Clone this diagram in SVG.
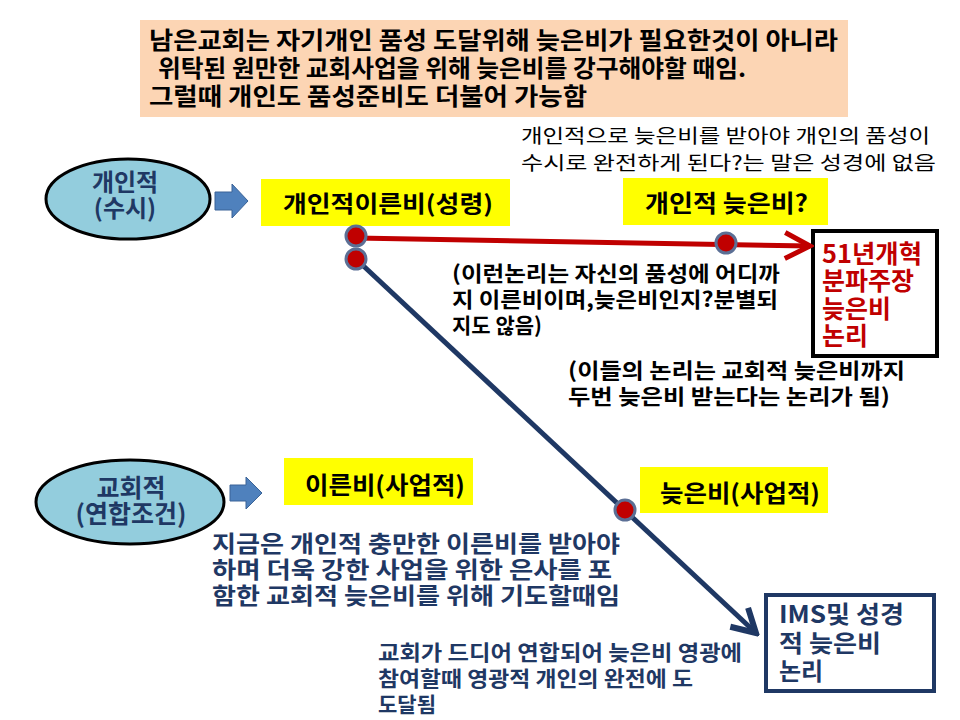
<svg xmlns="http://www.w3.org/2000/svg" width="960" height="720" viewBox="0 0 960 720">
<style>
text{font-family:"Noto Sans CJK KR","Noto Sans",sans-serif;}
.b{font-weight:700;}
.blk{fill:#000;}
.navy{fill:#1F3864;}
.red{fill:#C00000;}
.ybox{fill:#FFFF00;}
.ell{fill:#93CDDD;stroke:#000;stroke-width:3;}
.blockarrow{fill:#4F81BD;stroke:#3A6397;stroke-width:1;}
.dot{fill:#C00000;stroke:#5B6F95;stroke-width:3;}
</style>
<defs>
<marker id="arrRed" markerUnits="userSpaceOnUse" viewBox="-32 -18 36 36" markerWidth="36" markerHeight="36" refX="0" refY="0" orient="auto">
<path d="M-25,-13 L0,0 L-25,13" fill="none" stroke="#C00000" stroke-width="5"/>
</marker>
<marker id="arrNavy" markerUnits="userSpaceOnUse" viewBox="-32 -18 36 36" markerWidth="36" markerHeight="36" refX="0" refY="0" orient="auto">
<path d="M-23,-13 L0,0 L-23,13" fill="none" stroke="#1F3864" stroke-width="6"/>
</marker>
</defs>
<rect width="960" height="720" fill="#fff"/>

<g id="top-note">
<rect x="140" y="20" width="708" height="97" fill="#FCD5B4"/>
<text class="b blk" font-size="24" x="149" y="49" textLength="689" lengthAdjust="spacingAndGlyphs">남은교회는 자기개인 품성 도달위해 늦은비가 필요한것이 아니라</text>
<text class="b blk" font-size="24" x="158" y="77" textLength="588" lengthAdjust="spacingAndGlyphs">위탁된 원만한 교회사업을 위해 늦은비를 강구해야할 때임.</text>
<text class="b blk" font-size="24" x="149" y="105" textLength="438" lengthAdjust="spacingAndGlyphs">그럴때 개인도 품성준비도  더불어 가능함</text>
</g>

<g id="note-bible">
<text class="blk" font-size="19" x="521" y="143" textLength="409" lengthAdjust="spacingAndGlyphs">개인적으로 늦은비를 받아야 개인의 품성이</text>
<text class="blk" font-size="19" x="521" y="170" textLength="415" lengthAdjust="spacingAndGlyphs">수시로 완전하게 된다?는  말은 성경에 없음</text>
</g>

<g id="personal">
<ellipse class="ell" cx="128" cy="199" rx="82" ry="40"/>
<text class="b navy" font-size="24" x="125" y="191" text-anchor="middle">개인적</text>
<text class="b navy" font-size="24" x="125" y="217" text-anchor="middle">(수시)</text>
</g>
<g id="arrow-personal">
<path class="blockarrow" d="M215,192 H232 V184 L248,201 L232,218 V210 H215 Z"/>
</g>

<g id="early-rain-personal">
<rect class="ybox" x="261" y="179" width="249" height="47"/>
<text class="b blk" font-size="23" x="283" y="212" textLength="210" lengthAdjust="spacingAndGlyphs">개인적이른비(성령)</text>
</g>

<g id="late-rain-personal">
<rect class="ybox" x="623" y="178" width="205" height="47"/>
<text class="b blk" font-size="24" x="645" y="212" textLength="163" lengthAdjust="spacingAndGlyphs">개인적 늦은비?</text>
</g>

<g id="box-1951">
<rect x="813" y="231" width="124" height="125" fill="#fff" stroke="#000" stroke-width="4"/>
<text class="b red" font-size="25" x="822" y="263" textLength="100" lengthAdjust="spacingAndGlyphs">51년개혁</text>
<text class="b red" font-size="25" x="822" y="290">분파주장</text>
<text class="b red" font-size="25" x="822" y="318">늦은비</text>
<text class="b red" font-size="25" x="822" y="345">논리</text>
</g>

<g id="note-logic1">
<text class="b blk" font-size="21" x="452" y="281" textLength="328" lengthAdjust="spacingAndGlyphs">(이런논리는 자신의 품성에 어디까</text>
<text class="b blk" font-size="21" x="452" y="307" textLength="326" lengthAdjust="spacingAndGlyphs">지 이른비이며,늦은비인지?분별되</text>
<text class="b blk" font-size="21" x="452" y="333">지도 않음)</text>
</g>

<g id="note-logic2">
<text class="b blk" font-size="21" x="568" y="378" textLength="337" lengthAdjust="spacingAndGlyphs">(이들의 논리는 교회적 늦은비까지</text>
<text class="b blk" font-size="21" x="568" y="404" textLength="322" lengthAdjust="spacingAndGlyphs">두번 늦은비 받는다는 논리가 됨)</text>
</g>

<g id="church">
<ellipse class="ell" cx="130" cy="502" rx="94" ry="42"/>
<text class="b navy" font-size="25" x="131" y="497" text-anchor="middle">교회적</text>
<text class="b navy" font-size="25" x="131" y="523" text-anchor="middle">(연합조건)</text>
</g>
<g id="arrow-church">
<path class="blockarrow" d="M230,485 H246 V477 L262,493 L246,509 V501 H230 Z"/>
</g>

<g id="early-rain-church">
<rect class="ybox" x="284" y="458" width="189" height="47"/>
<text class="b blk" font-size="24" x="305" y="494" textLength="160" lengthAdjust="spacingAndGlyphs">이른비(사업적)</text>
</g>

<g id="late-rain-church">
<rect class="ybox" x="640" y="467" width="188" height="46"/>
<text class="b blk" font-size="24" x="660" y="502" textLength="160" lengthAdjust="spacingAndGlyphs">늦은비(사업적)</text>
</g>

<g id="note-now">
<text class="b navy" font-size="23" x="212" y="552" textLength="408" lengthAdjust="spacingAndGlyphs">지금은 개인적 충만한 이른비를 받아야</text>
<text class="b navy" font-size="23" x="212" y="578" textLength="400" lengthAdjust="spacingAndGlyphs">하며 더욱 강한 사업을 위한 은사를 포</text>
<text class="b navy" font-size="23" x="212" y="604" textLength="408" lengthAdjust="spacingAndGlyphs">함한 교회적 늦은비를 위해 기도할때임</text>
</g>

<g id="box-ims">
<rect x="766" y="595" width="168" height="96" fill="#fff" stroke="#1F3864" stroke-width="4"/>
<text class="b navy" font-size="24" x="779" y="623" textLength="125" lengthAdjust="spacingAndGlyphs">IMS및 성경</text>
<text class="b navy" font-size="24" x="779" y="652" textLength="102" lengthAdjust="spacingAndGlyphs">적 늦은비</text>
<text class="b navy" font-size="24" x="779" y="680">논리</text>
</g>

<g id="note-glory">
<text class="b navy" font-size="21" x="378" y="660" textLength="364" lengthAdjust="spacingAndGlyphs">교회가 드디어 연합되어 늦은비 영광에</text>
<text class="b navy" font-size="21" x="378" y="686" textLength="315" lengthAdjust="spacingAndGlyphs">참여할때  영광적 개인의 완전에 도</text>
<text class="b navy" font-size="21" x="378" y="712">도달됨</text>
</g>

<g id="connectors">
<line x1="356" y1="238" x2="810" y2="246" stroke="#C00000" stroke-width="5" marker-end="url(#arrRed)"/>
<line x1="356" y1="259" x2="756" y2="633" stroke="#1F3864" stroke-width="5" marker-end="url(#arrNavy)"/>
<circle class="dot" cx="356" cy="236" r="10"/>
<circle class="dot" cx="356" cy="259" r="10"/>
<circle class="dot" cx="726" cy="243" r="10"/>
<circle class="dot" cx="625" cy="510" r="10"/>
</g>
</svg>
